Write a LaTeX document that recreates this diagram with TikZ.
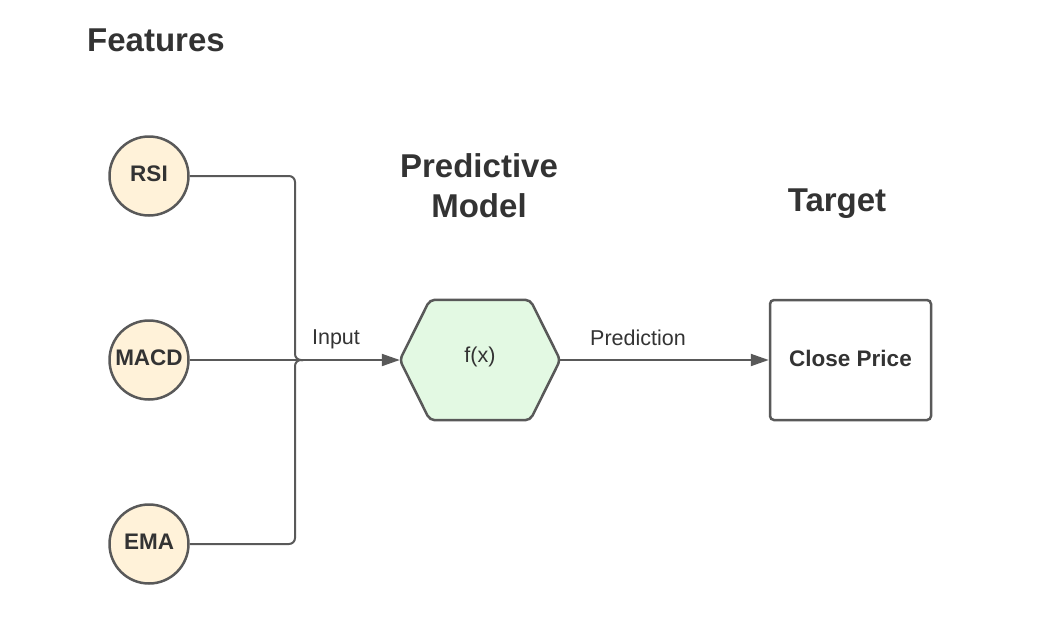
\documentclass[tikz,border=0pt]{standalone}
\usepackage{fontspec}
\setmainfont{Liberation Sans}
\usetikzlibrary{arrows.meta}
\definecolor{linegray}{HTML}{595959}
\definecolor{txt}{HTML}{333333}
\definecolor{cream}{HTML}{FFF2D9}
\definecolor{mint}{HTML}{E3F9E3}
\begin{document}
\begin{tikzpicture}[x=1pt,y=-1pt,
  feat/.style={circle, draw=linegray, line width=2.5pt, fill=cream, minimum size=79pt, inner sep=0pt},
  ftext/.style={text=txt, font=\fontsize{22.5}{27}\selectfont\bfseries},
  conn/.style={draw=linegray, line width=2pt},
  tip/.style={-{Triangle[length=18pt,width=12pt]}},
  title/.style={text=txt, font=\fontsize{33}{40}\selectfont\bfseries, align=center},
  lbl/.style={text=txt, font=\fontsize{21.5}{26}\selectfont}]
\useasboundingbox (0,0) rectangle (1056,629);
\node[title] (features) at (156,40) {Features};
\node[title] (predictive) at (479,186) {Predictive\\Model};
\node[title] (target) at (837,204) {Target};
\node[feat] (rsi) at (149,176) {};
\node[feat] (macd) at (149,360) {};
\node[feat] (ema) at (149,544) {};
\node[ftext] (rsit) at (149,173.5) {RSI};
\node[ftext] (macdt) at (149,357.5) {MACD};
\node[ftext] (emat) at (149,541.5) {EMA};
\node[minimum width=160pt, minimum height=120pt, inner sep=0pt] (fx) at (480,360) {};
\filldraw[fill=mint, draw=linegray, line width=2.5pt, rounded corners=5pt]
  (fx.west) -- ([xshift=30pt]fx.north west) -- ([xshift=-30pt]fx.north east) -- (fx.east)
  -- ([xshift=-30pt]fx.south east) -- ([xshift=30pt]fx.south west) -- cycle;
\node[text=txt, font=\fontsize{21.5}{26}\selectfont] (fxlabel) at (480,357) {f(x)};
\node[draw=linegray, line width=2.5pt, rounded corners=4pt, fill=white, minimum width=161pt, minimum height=120pt, inner sep=0pt] (close) at (850.5,360) {};
\node[text=txt, font=\fontsize{22.5}{27}\selectfont\bfseries] (closet) at (850.5,358) {Close Price};
\coordinate (jx) at (295,360);
\path[conn, rounded corners=6pt] (rsi.east) -- (rsi.east -| jx) -- (jx) -- ([xshift=8pt]jx);
\path[conn, rounded corners=6pt] (ema.east) -- (ema.east -| jx) -- (jx) -- ([xshift=8pt]jx);
\path[conn, tip] (macd.east) -- (fx.west);
\path[conn, tip] (fx.east) -- (close.west);
\node[lbl] (input) at (336,339) {Input};
\node[lbl] (prediction) at (638,338) {Prediction};
\end{tikzpicture}
\end{document}
